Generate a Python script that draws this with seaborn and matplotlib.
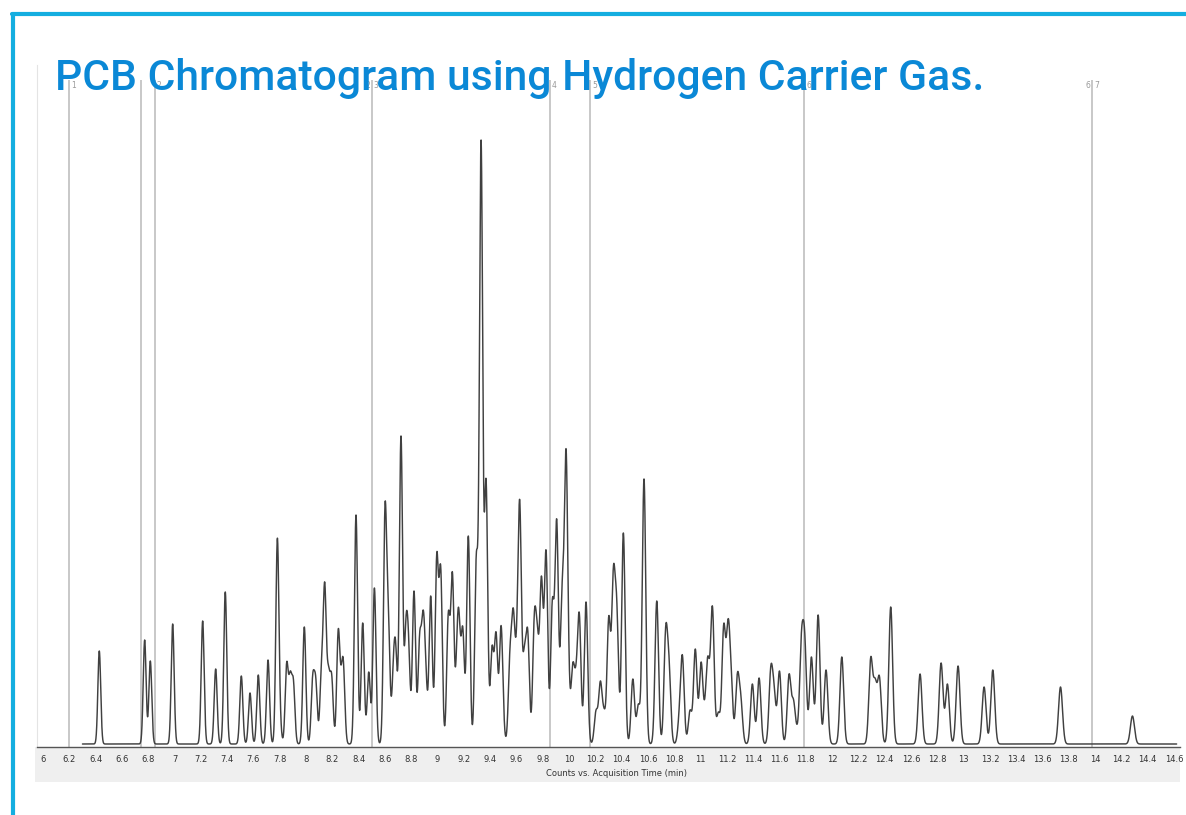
import numpy as np
import seaborn as sns
import matplotlib.pyplot as plt
from matplotlib.patches import Rectangle
from matplotlib.lines import Line2D

# peak retention times (min) and apex heights (counts, arbitrary units)
rt = [6.428, 6.773, 6.816, 6.986, 7.214, 7.313, 7.386, 7.508, 7.574, 7.637,
      7.711, 7.782, 7.802, 7.853, 7.880, 7.904, 7.987, 8.051, 8.074, 8.117,
      8.142, 8.170, 8.195, 8.245, 8.268, 8.284, 8.380, 8.431, 8.477, 8.520,
      8.601, 8.626, 8.664, 8.682, 8.722, 8.740, 8.760, 8.780, 8.821, 8.864,
      8.890, 8.910, 8.948, 8.994, 9.024, 9.082, 9.113, 9.148, 9.163, 9.192,
      9.234, 9.295, 9.331, 9.369, 9.414, 9.445, 9.483, 9.500, 9.551, 9.576,
      9.602, 9.625, 9.660, 9.686, 9.736, 9.759, 9.790, 9.825, 9.873, 9.906,
      9.947, 9.977, 9.997, 10.028, 10.053, 10.078, 10.129, 10.205, 10.238, 10.266,
      10.302, 10.337, 10.363, 10.413, 10.485, 10.527, 10.570, 10.667, 10.735, 10.760,
      10.839, 10.862, 10.920, 10.960, 11.004, 11.032, 11.055, 11.090, 11.135, 11.176,
      11.209, 11.232, 11.280, 11.306, 11.394, 11.445, 11.534, 11.559, 11.600, 11.673,
      11.706, 11.731, 11.747, 11.767, 11.792, 11.843, 11.894, 11.954, 12.074, 12.294,
      12.327, 12.360, 12.446, 12.669, 12.829, 12.877, 12.958, 13.156, 13.222, 13.737,
      14.284]
height = [93, 104, 83, 120, 123, 75, 152, 68, 51, 69,
          84, 206, 58, 82, 73, 65, 117, 70, 67, 82,
          162, 79, 70, 115, 78, 84, 229, 121, 72, 156,
          241, 141, 86, 101, 308, 72, 127, 108, 153, 111,
          134, 87, 148, 191, 178, 132, 172, 111, 134, 117,
          208, 191, 604, 265, 98, 112, 119, 47, 97, 136,
          122, 244, 98, 114, 131, 119, 168, 194, 145, 225,
          160, 296, 111, 81, 80, 131, 142, 34, 63, 36,
          128, 177, 144, 211, 65, 40, 265, 143, 118, 88,
          40, 89, 34, 95, 82, 45, 88, 138, 32, 120,
          125, 79, 71, 50, 60, 66, 78, 60, 73, 70,
          45, 20, 20, 112, 112, 87, 129, 74, 87, 87,
          66, 68, 137, 70, 81, 60, 78, 57, 74, 57,
          28]

# segment marker lines (time, left label, right label)
seg_time = [6.2, 6.745, 6.85, 8.5, 9.855, 10.16, 11.79, 13.98]
seg_left = ["", "", "", "2", "3", "", "", "6"]
seg_right = ["1", "", "2", "3", "4", "5", "6", "7"]

xticks = np.round(np.arange(6.0, 14.61, 0.2), 1)
xticklabels = [f"{v:g}" for v in xticks]

# build the trace from the peak table
rt_a = np.array(rt)
h_a = np.array(height, dtype=float)
sig = 0.0105 + 0.0006 * (rt_a - 6)
t = np.linspace(6.3, 14.62, 20000)


def trace(amp, x):
    return (amp[:, None] * np.exp(-0.5 * ((x[None, :] - rt_a[:, None]) / sig[:, None]) ** 2)).sum(0)


amp = h_a.copy()
for _ in range(6):
    amp = np.clip(amp * h_a / trace(amp, rt_a), 2, None)
signal = trace(amp, t)

W, H = 1186, 815
sns.set_style("white")
fig = plt.figure(figsize=(W / 100, H / 100), dpi=100)

# grey band under the axis
fig.patches.append(Rectangle((35 / W, 1 - 782 / H), 1145 / W, 35 / H,
                             transform=fig.transFigure, facecolor="#efefef",
                             edgecolor="none", zorder=-5))
# cyan frame
fig.lines.append(Line2D([12 / W, 1], [1 - 14 / H, 1 - 14 / H], transform=fig.transFigure,
                        color="#14aee0", lw=3))
fig.lines.append(Line2D([13 / W, 13 / W], [0, 1 - 14 / H], transform=fig.transFigure,
                        color="#14aee0", lw=3))

ax = fig.add_axes([37 / W, 1 - 747 / H, 1143 / W, (747 - 65) / H])
ax.set_facecolor("none")
sns.lineplot(x=t, y=signal, ax=ax, color="#404040", linewidth=1.05, estimator=None)

ax.vlines(seg_time, -3, 664, color="#c4c4c4", lw=1.3, zorder=1)
for x0, lt, rtx in zip(seg_time, seg_left, seg_right):
    if lt:
        ax.text(x0 - 0.015, 659, lt, ha="right", va="center", fontsize=5.5, color="#9a9a9a")
    if rtx:
        ax.text(x0 + 0.015, 659, rtx, ha="left", va="center", fontsize=5.5, color="#9a9a9a")

ax.set_xlim(6 - 6 / 131.5, 14.6 + 6 / 131.5)
ax.set_ylim(-3, 744 - 65)
ax.set_xticks(xticks)
ax.set_xticklabels(xticklabels, fontsize=6, color="#333333",
                   family=["Liberation Sans Narrow", "DejaVu Sans"])
ax.tick_params(axis="x", direction="out", length=4, width=0.8, color="#555555", pad=2)
ax.set_yticks([])
for s in ["top", "right"]:
    ax.spines[s].set_visible(False)
ax.spines["bottom"].set_color("#555555")
ax.spines["bottom"].set_linewidth(1.0)
ax.spines["left"].set_color("#e4e4e4")
ax.spines["left"].set_linewidth(0.8)

fig.text(616 / W, 1 - 773 / H, "Counts vs. Acquisition Time (min)", ha="center", va="center",
         fontsize=6, color="#333333", family=["Liberation Sans Narrow", "DejaVu Sans"])

fig.text(55 / W, 1 - 90 / H, "PCB Chromatogram using Hydrogen Carrier Gas.",
         ha="left", va="baseline", fontsize=30.7, color="#0a88d6",
         family=["Roboto", "DejaVu Sans"], fontweight="medium", zorder=5)

fig.savefig("out.png", dpi=100)
